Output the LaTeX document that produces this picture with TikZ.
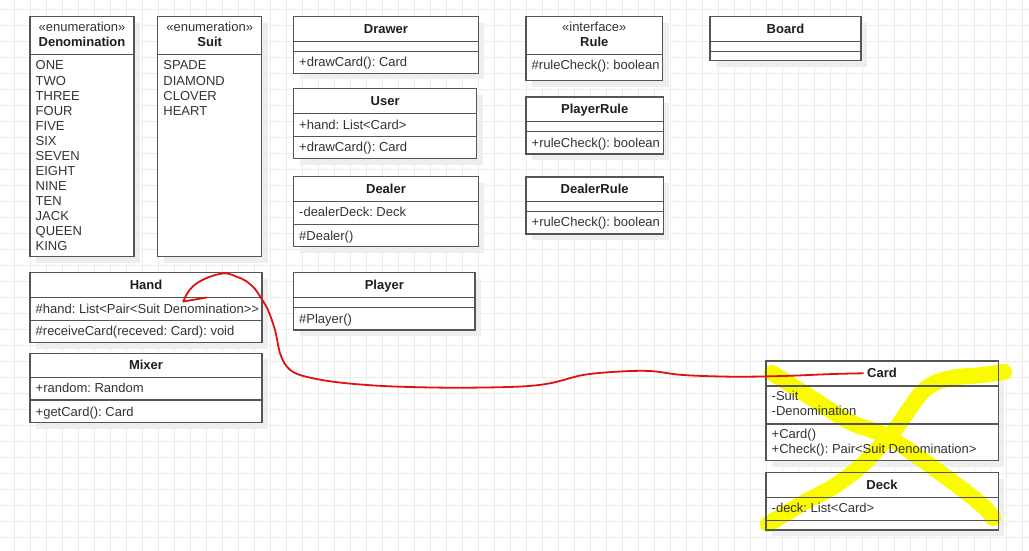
\documentclass[tikz,border=0pt]{standalone}
\usepackage{fontspec}
\setmainfont{Liberation Sans}[Ligatures=TeXOff]
\frenchspacing
\usetikzlibrary{calc}
\pgfdeclarelayer{back}
\pgfdeclarelayer{marker}
\pgfsetlayers{back,marker,main}
\definecolor{gridc}{RGB}{236,236,236}
\definecolor{shadowc}{RGB}{238,238,238}
\definecolor{framec}{RGB}{85,85,85}
\definecolor{textc}{RGB}{51,51,51}
\definecolor{titlec}{RGB}{30,30,30}
\definecolor{hiyellow}{RGB}{250,250,0}
\definecolor{penred}{RGB}{226,16,16}

% one UML class frame: name, left, top, right, bottom
\newcommand\umlclass[5]{%
  \begin{pgfonlayer}{back}
    \fill[shadowc] ({#2+6},{#3+6}) rectangle ({#4+6},{#5+6});
    \fill[white] (#2,#3) rectangle (#4,#5);
  \end{pgfonlayer}
  \node[frame, anchor=north west, minimum width={#4-#2}, minimum height={#5-#3}] (#1) at (#2,#3) {};
}
% compartment divider: left, right, y
\newcommand\umlsep[3]{\draw[rule] (#1,#3) -- (#2,#3);}

\begin{document}
\begin{tikzpicture}[x=1pt,y=-1pt,
  every node/.style={font=\fontsize{13}{15}\selectfont},
  gridline/.style={draw=gridc, line width=0.6pt},
  frame/.style={draw=framec, line width=1.3pt, rectangle, inner sep=0pt, outer sep=0pt},
  rule/.style={draw=framec, line width=1.3pt},
  ttl/.style={anchor=base, inner sep=0pt, text=titlec, font=\fontsize{13}{15}\selectfont\bfseries},
  stereo/.style={anchor=base, inner sep=0pt, text=textc},
  attr/.style={anchor=base west, inner sep=0pt, text=textc},
  highlighter/.style={draw=hiyellow, line width=16pt, line cap=round, line join=round},
  redpen/.style={draw=penred, line width=1.8pt, line cap=round, line join=round}]

\useasboundingbox (0,0) rectangle (1029,551);

% background grid
\begin{pgfonlayer}{back}
  \fill[white] (0,0) rectangle (1029,551);
  \foreach \x in {14,30,...,1022} \draw[gridline] (\x,0) -- (\x,551);
  \foreach \y in {9,25,...,537} \draw[gridline] (0,\y) -- (1029,\y);
\end{pgfonlayer}

% ---- Denomination enumeration
\umlclass{denom}{30}{16.7}{134}{256.7}
\umlsep{30}{134}{54.3}
\node[stereo] (denom-st) at (82,31.7) {«enumeration»};
\node[ttl] (denom-t) at (82,46.8) {Denomination};
\foreach \v [count=\i from 0] in {ONE,TWO,THREE,FOUR,FIVE,SIX,SEVEN,EIGHT,NINE,TEN,JACK,QUEEN,KING}
  \node[attr] (denom-\i) at (35.5,{70+15*\i}) {\v};

% ---- Suit enumeration
\umlclass{suit}{157.7}{16.7}{261.7}{256.7}
\umlsep{157.7}{261.7}{54.3}
\node[stereo] (suit-st) at (209.7,31.7) {«enumeration»};
\node[ttl] (suit-t) at (209.7,46.8) {Suit};
\foreach \v [count=\i from 0] in {SPADE,DIAMOND,CLOVER,HEART}
  \node[attr] (suit-\i) at (163.2,{70+15*\i}) {\v};

% ---- Drawer
\umlclass{drawer}{293.7}{16.7}{478.3}{73.3}
\umlsep{293.7}{478.3}{41.7}
\umlsep{293.7}{478.3}{51.7}
\node[ttl] (drawer-t) at (386,33.9) {Drawer};
\node[attr] (drawer-m) at (299,66.8) {+drawCard(): Card};

% ---- User
\umlclass{user}{293.7}{88.7}{476.7}{158.7}
\umlsep{293.7}{476.7}{113.3}
\umlsep{293.7}{476.7}{136.7}
\node[ttl] (user-t) at (385.2,105.5) {User};
\node[attr] (user-a) at (299,129.5) {+hand: List<Card>};
\node[attr] (user-m) at (299,151.5) {+drawCard(): Card};

% ---- Dealer
\umlclass{dealer}{293.7}{176.7}{478.3}{246.7}
\umlsep{293.7}{478.3}{201.7}
\umlsep{293.7}{478.3}{224.3}
\node[ttl] (dealer-t) at (386,193.8) {Dealer};
\node[attr] (dealer-a) at (299,216.8) {-dealerDeck: Deck};
\node[attr] (dealer-m) at (299,240.5) {\#Dealer()};

% ---- Player
\umlclass{player}{293.7}{272.7}{475}{330}
\umlsep{293.7}{475}{297.7}
\umlsep{293.7}{475}{307.7}
\node[ttl] (player-t) at (384.3,289.8) {Player};
\node[attr] (player-m) at (299,323.8) {\#Player()};

% ---- Rule interface
\umlclass{rule}{526}{16.7}{662.7}{80.7}
\umlsep{526}{662.7}{54.3}
\node[stereo] (rule-st) at (594.3,32) {«interface»};
\node[ttl] (rule-t) at (594.3,46.8) {Rule};
\node[attr] (rule-m) at (531.5,69.8) {\#ruleCheck(): boolean};

% ---- PlayerRule
\umlclass{prule}{526}{97}{663.3}{154}
\umlsep{526}{663.3}{121.7}
\umlsep{526}{663.3}{131.7}
\node[ttl] (prule-t) at (594.7,113.5) {PlayerRule};
\node[attr] (prule-m) at (531.5,147.2) {+ruleCheck(): boolean};

% ---- DealerRule
\umlclass{drule}{526}{177}{663.3}{234}
\umlsep{526}{663.3}{201.7}
\umlsep{526}{663.3}{211.7}
\node[ttl] (drule-t) at (594.7,193.8) {DealerRule};
\node[attr] (drule-m) at (531.5,226.5) {+ruleCheck(): boolean};

% ---- Board
\umlclass{board}{710}{16.7}{861}{60.7}
\umlsep{710}{861}{41.7}
\umlsep{710}{861}{51.7}
\node[ttl] (board-t) at (785.5,33.8) {Board};

% ---- Hand
\umlclass{hand}{30}{272.7}{262}{342.7}
\umlsep{30}{262}{297.3}
\umlsep{30}{262}{320.7}
\node[ttl] (hand-t) at (146,289.5) {Hand};
\node[attr] (hand-a) at (35.5,313.5) {\#hand: List<Pair<Suit Denomination>>};
\node[attr] (hand-m) at (35.5,335.5) {\#receiveCard(receved: Card): void};

% ---- Mixer
\umlclass{mixer}{30}{353.3}{262}{422.7}
\umlsep{30}{262}{377.7}
\umlsep{30}{262}{400}
\node[ttl] (mixer-t) at (146,369.8) {Mixer};
\node[attr] (mixer-a) at (35.5,392.8) {+random: Random};
\node[attr] (mixer-m) at (35.5,416.2) {+getCard(): Card};

% ---- Card
\umlclass{card}{766}{361}{998.3}{460.7}
\umlsep{766}{998.3}{386}
\umlsep{766}{998.3}{424}
\node[ttl] (card-t) at (882,377.8) {Card};
\node[attr] (card-a1) at (771.5,400.5) {-Suit};
\node[attr] (card-a2) at (771.5,415.8) {-Denomination};
\node[attr] (card-m1) at (771.5,438.8) {+Card()};
\node[attr] (card-m2) at (771.5,453.5) {+Check(): Pair<Suit Denomination>};

% ---- Deck
\umlclass{deck}{766}{472.7}{998.3}{530}
\umlsep{766}{998.3}{497.7}
\umlsep{766}{998.3}{520.7}
\node[ttl] (deck-t) at (882,489.5) {Deck};
\node[attr] (deck-a) at (771.5,512.5) {-deck: List<Card>};

% ---- highlighter cross over Card and Deck
\begin{pgfonlayer}{marker}
  \draw[highlighter] plot[smooth, tension=0.6] coordinates
    {(772,373) (810,397) (850,422) (890,438) (950,480) (983,506) (993,518)};
  \draw[highlighter] plot[smooth, tension=0.5] coordinates
    {(1004,372) (983,375) (957,377) (937,382) (923,391) (910,408) (897,427)
     (883,443) (860,467) (833,487) (803,503) (780,517) (768,524)};
\end{pgfonlayer}

% ---- red pen stroke from Card back to the hand attribute
\coordinate (redstart) at (863,373.3);
\coordinate (redtip) at (183.3,301.5);
\coordinate (redbarb) at (206.7,297.5);
\draw[redpen] plot[smooth, tension=0.55] coordinates
  {(redstart) (833,374) (783,376) (733,376.7) (683,375) (650,371) (617,371.7)
   (583,375) (550,383.3) (517,386.7) (450,387.7) (383,386) (333,381.7)
   (300,375) (287,366.7) (280,353) (275,330) (268,310) (261,298) (255,289)
   (246,281) (236.7,276.7) (225,273.3) (210,276.7) (196.7,283.3) (188.3,291.7) (redtip)};
\draw[redpen] (redtip) -- (redbarb);

\end{tikzpicture}
\end{document}
